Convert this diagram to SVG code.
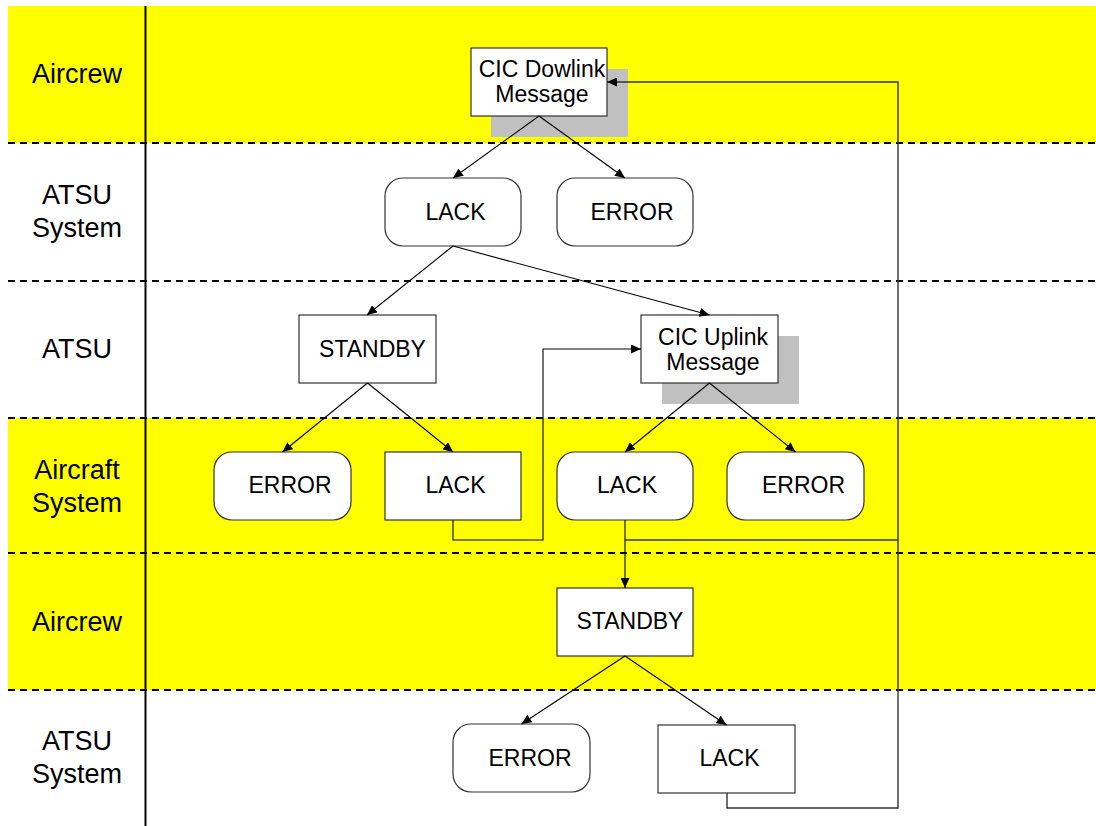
<svg xmlns="http://www.w3.org/2000/svg" width="1096" height="826" viewBox="0 0 1096 826">
<defs>
<marker id="arr" markerUnits="userSpaceOnUse" markerWidth="11" markerHeight="9" refX="10" refY="4.5" orient="auto">
<path d="M0,0 L10,4.5 L0,9 z" fill="#000"/>
</marker>
<style>
.lane{fill:#ffff00}
.dash{stroke:#000;stroke-width:2;stroke-dasharray:7 5;fill:none}
.lbl{font-family:"Liberation Sans",Arial,sans-serif;font-size:27px;fill:#000;text-anchor:middle}
.txt{font-family:"Liberation Sans",Arial,sans-serif;font-size:23px;fill:#000;text-anchor:middle}
.box{fill:#fff;stroke:#333;stroke-width:1.2}
.shadow{fill:#c0c0c0}
.c{stroke:#000;stroke-width:1.1;fill:none}
.cg{stroke:#333;stroke-width:1.4;fill:none}
</style>
</defs>
<rect width="1096" height="826" fill="#fff"/>
<g id="lanes">
<rect class="lane" x="8" y="6" width="1088" height="137"/>
<rect class="lane" x="8" y="418" width="1088" height="272"/>
<line class="dash" x1="8" y1="143" x2="1096" y2="143"/>
<line class="dash" x1="8" y1="281" x2="1096" y2="281"/>
<line class="dash" x1="8" y1="418" x2="1096" y2="418"/>
<line class="dash" x1="8" y1="553" x2="1096" y2="553"/>
<line class="dash" x1="8" y1="690" x2="1096" y2="690"/>
<line x1="145.5" y1="6" x2="145.5" y2="826" stroke="#000" stroke-width="2"/>
<text class="lbl" x="77" y="83">Aircrew</text>
<text class="lbl" x="77" y="204">ATSU</text>
<text class="lbl" x="77" y="237">System</text>
<text class="lbl" x="77" y="358">ATSU</text>
<text class="lbl" x="77" y="479">Aircraft</text>
<text class="lbl" x="77" y="512">System</text>
<text class="lbl" x="77" y="631">Aircrew</text>
<text class="lbl" x="77" y="750">ATSU</text>
<text class="lbl" x="77" y="783">System</text>
</g>
<g id="cic-downlink">
<rect class="shadow" x="491" y="69" width="137" height="68"/>
<rect class="box" x="471" y="48" width="136" height="68"/>
<text class="txt" x="542" y="77">CIC Dowlink</text>
<text class="txt" x="542" y="102">Message</text>
</g>
<g id="lack-1">
<rect class="box" x="385" y="178" width="136" height="68" rx="18"/>
<text class="txt" x="455.5" y="220">LACK</text>
</g>
<g id="error-1">
<rect class="box" x="557" y="178" width="136" height="68" rx="18"/>
<text class="txt" x="632" y="220">ERROR</text>
</g>
<g id="standby-1">
<rect class="box" x="299" y="315" width="137" height="68"/>
<text class="txt" x="372.5" y="357">STANDBY</text>
</g>
<g id="cic-uplink">
<rect class="shadow" x="662" y="336" width="137" height="68"/>
<rect class="box" x="641" y="315" width="137" height="68"/>
<text class="txt" x="713" y="345">CIC Uplink</text>
<text class="txt" x="713" y="370">Message</text>
</g>
<g id="error-2">
<rect class="box" x="214" y="452" width="137" height="68" rx="18"/>
<text class="txt" x="290" y="493">ERROR</text>
</g>
<g id="lack-2">
<rect class="box" x="385" y="452" width="136" height="68"/>
<text class="txt" x="455.5" y="493">LACK</text>
</g>
<g id="lack-3">
<rect class="box" x="557" y="452" width="136" height="68" rx="18"/>
<text class="txt" x="627" y="493">LACK</text>
</g>
<g id="error-3">
<rect class="box" x="727" y="452" width="137" height="68" rx="18"/>
<text class="txt" x="803.5" y="493">ERROR</text>
</g>
<g id="standby-2">
<rect class="box" x="557" y="588" width="136" height="68"/>
<text class="txt" x="630" y="629">STANDBY</text>
</g>
<g id="error-4">
<rect class="box" x="453" y="724" width="137" height="68" rx="18"/>
<text class="txt" x="530" y="766">ERROR</text>
</g>
<g id="lack-4">
<rect class="box" x="658" y="725" width="137" height="68"/>
<text class="txt" x="729.5" y="766">LACK</text>
</g>
<g id="connectors">
<line class="c" x1="539" y1="116" x2="453" y2="178" marker-end="url(#arr)"/>
<line class="c" x1="539" y1="116" x2="625" y2="178" marker-end="url(#arr)"/>
<line class="c" x1="453" y1="246" x2="367" y2="315" marker-end="url(#arr)"/>
<line class="c" x1="453" y1="246" x2="709.5" y2="315" marker-end="url(#arr)"/>
<line class="c" x1="367.5" y1="383" x2="282.5" y2="452" marker-end="url(#arr)"/>
<line class="c" x1="367.5" y1="383" x2="453" y2="452" marker-end="url(#arr)"/>
<line class="c" x1="709.5" y1="383" x2="625" y2="452" marker-end="url(#arr)"/>
<line class="c" x1="709.5" y1="383" x2="795.5" y2="452" marker-end="url(#arr)"/>
<polyline class="c" points="453,520 453,540 543,540 543,349 641,349" marker-end="url(#arr)"/>
<line class="c" x1="625" y1="520" x2="625" y2="588" marker-end="url(#arr)"/>
<polyline class="cg" points="625,540 898,540"/>
<line class="c" x1="625" y1="656" x2="521.5" y2="724" marker-end="url(#arr)"/>
<line class="c" x1="625" y1="656" x2="726.5" y2="725" marker-end="url(#arr)"/>
<polyline class="cg" points="727,793 727,808 898,808 898,82 607,82" marker-end="url(#arr)"/>
</g>
</svg>
